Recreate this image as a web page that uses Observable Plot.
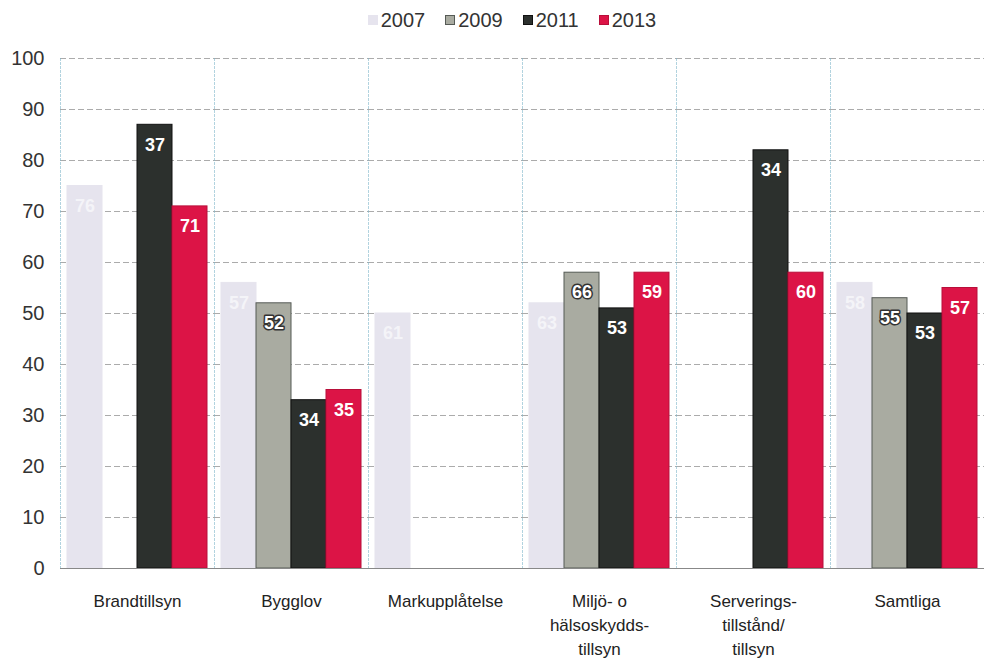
<!DOCTYPE html>
<html>
<head>
<meta charset="utf-8">
<script src="https://cdn.jsdelivr.net/npm/d3@7"></script>
<script src="https://cdn.jsdelivr.net/npm/@observablehq/plot@0.6"></script>
<style>
  body { margin: 0; background: #fff; font-family: "Liberation Sans", Arial, sans-serif; }
  #legend { height: 40px; display: flex; justify-content: center; align-items: center; gap: 20px; font-size: 20px; color: #333; padding-left: 40px; box-sizing: border-box; }
  #legend span.sw { display: inline-block; width: 10px; height: 10px; margin-right: 3px; box-sizing: border-box; }
  #legend .item { display: flex; align-items: center; }
</style>
</head>
<body>
<div id="legend"></div>
<div id="chart"></div>
<script>
const categories = ["Brandtillsyn", "Bygglov", "Markupplåtelse", "Miljö- o\nhälsoskydds-\ntillsyn", "Serverings-\ntillstånd/\ntillsyn", "Samtliga"];
const years = ["2007", "2009", "2011", "2013"];
const values2007 = [75, 56, 50, 52, null, 56];
const values2009 = [null, 52, null, 58, null, 53];
const values2011 = [87, 33, null, 51, 82, 50];
const values2013 = [71, 35, null, 58, 58, 55];
const labels2007 = [76, 57, 61, 63, null, 58];
const labels2009 = [null, 52, null, 66, null, 55];
const labels2011 = [37, 34, null, 53, 34, 53];
const labels2013 = [71, 35, null, 59, 60, 57];
const yTicks = [0, 10, 20, 30, 40, 50, 60, 70, 80, 90, 100];
const colors = ["#e6e4ee", "#a9aba1", "#2c302d", "#dc1446"];
const strokes = ["#e6e4ee", "#555a55", "#111", "#b80f3a"];

const valueSets = [values2007, values2009, values2011, values2013];
const labelSets = [labels2007, labels2009, labels2011, labels2013];
const data = [];
categories.forEach((c, i) => {
  years.forEach((y, j) => {
    const v = valueSets[j][i];
    if (v != null) data.push({cat: c, year: y, value: v, label: labelSets[j][i]});
  });
});

// legend
const legend = document.getElementById("legend");
years.forEach((y, j) => {
  const it = document.createElement("div");
  it.className = "item";
  const sw = document.createElement("span");
  sw.className = "sw";
  sw.style.background = colors[j];
  sw.style.border = "1px solid " + strokes[j];
  it.appendChild(sw);
  it.appendChild(document.createTextNode(y));
  legend.appendChild(it);
});

const chart = Plot.plot({
  width: 984,
  height: 626,
  marginTop: 18,
  marginBottom: 98,
  marginLeft: 60,
  marginRight: 0,
  style: {fontSize: "18px", fontFamily: "Liberation Sans, Arial, sans-serif", color: "#333", background: "#fff"},
  fx: {domain: categories, padding: 0, label: null, axis: null},
  x: {domain: years, paddingInner: 0, paddingOuter: 0.2, axis: null},
  y: {domain: [0, 100], label: null, axis: null},
  color: {domain: years, range: colors},
  marks: [
    Plot.gridY(yTicks, {stroke: "#666", strokeOpacity: 0.55, strokeDasharray: "6,3"}),
    Plot.frame({anchor: "left", stroke: "#7fb5c9", strokeOpacity: 0.6, strokeDasharray: "2,2"}),
    Plot.axisY({ticks: yTicks, tickSize: 0, tickPadding: 16, fontSize: 20, label: null, fill: "#333"}),
    Plot.axisFx({anchor: "bottom", tickSize: 0, tickPadding: 22, fontSize: 17, lineHeight: 1.4, label: null, fill: "#222"}),
    Plot.barY(data, {fx: "cat", x: "year", y: "value", fill: "year", stroke: d => strokes[years.indexOf(d.year)], strokeWidth: 1}),
    Plot.ruleY([0], {stroke: "#888"}),
    Plot.text(data, {fx: "cat", x: "year", y: "value", text: "label", dy: 20, fill: "white", fontWeight: "bold", fontSize: 18,
      stroke: d => d.year === "2009" ? "#333" : "none", strokeWidth: 3, paintOrder: "stroke",
      fillOpacity: d => d.year === "2007" ? 0.6 : 1})
  ]
});
document.getElementById("chart").appendChild(chart);
</script>
</body>
</html>
